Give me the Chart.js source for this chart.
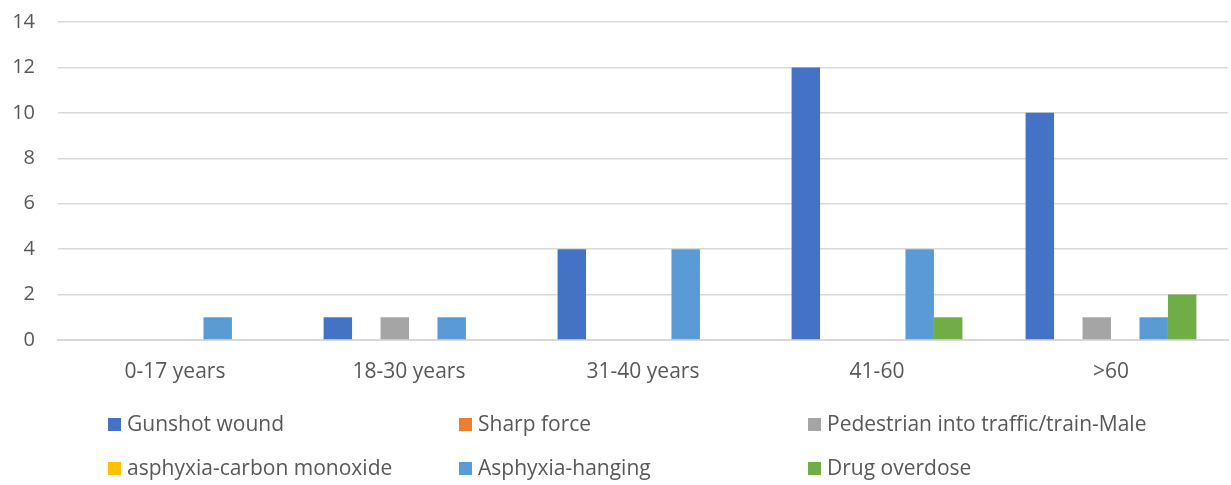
<!DOCTYPE html>
<html>
<head>
<meta charset="utf-8">
<script src="https://cdn.jsdelivr.net/npm/chart.js@4.4.0/dist/chart.umd.min.js"></script>
<style>
  html, body { margin: 0; padding: 0; background: #fff; }
  #wrap { position: relative; width: 1231px; height: 485px; font-family: "Open Sans", sans-serif; }
  #legend .item { position: absolute; font-size: 21px; color: #595959; line-height: 24px; white-space: nowrap; }
  #legend .box { display: inline-block; width: 13px; height: 13px; margin-right: 6px; vertical-align: 0px; }
</style>
</head>
<body>
<div id="wrap">
  <canvas id="chart" width="1231" height="485"></canvas>
  <div id="legend"></div>
</div>
<script>
// categories and series
const categories = ["0-17 years", "18-30 years", "31-40 years", "41-60", ">60"];
const gunshot = [0, 1, 4, 12, 10];
const sharpForce = [0, 0, 0, 0, 0];
const pedestrian = [0, 1, 0, 0, 1];
const carbonMonoxide = [0, 0, 0, 0, 0];
const hanging = [1, 1, 4, 4, 1];
const overdose = [0, 0, 0, 1, 2];
const yTicks = [0, 2, 4, 6, 8, 10, 12, 14];

const series = [
  { label: "Gunshot wound", data: gunshot, color: "#4472c4" },
  { label: "Sharp force", data: sharpForce, color: "#ed7d31" },
  { label: "Pedestrian into traffic/train-Male", data: pedestrian, color: "#a5a5a5" },
  { label: "asphyxia-carbon monoxide", data: carbonMonoxide, color: "#ffc000" },
  { label: "Asphyxia-hanging", data: hanging, color: "#5b9bd5" },
  { label: "Drug overdose", data: overdose, color: "#70ad47" }
];

new Chart(document.getElementById("chart"), {
  type: "bar",
  data: {
    labels: categories,
    datasets: series.map(s => ({
      label: s.label,
      data: s.data,
      backgroundColor: s.color,
      borderWidth: 0,
      categoryPercentage: 0.73,
      barPercentage: 1
    }))
  },
  options: {
    responsive: false,
    animation: false,
    layout: { padding: { top: 22, right: 3, left: 0, bottom: 0 } },
    plugins: { legend: { display: false }, tooltip: { enabled: false } },
    scales: {
      x: {
        grid: { display: false, drawTicks: false },
        border: { color: "#d9d9d9", width: 2 },
        ticks: { color: "#595959", font: { family: "'Open Sans', sans-serif", size: 21 }, padding: 19 },
        afterFit: scale => { scale.height = 145; }
      },
      y: {
        min: 0,
        max: 14,
        afterBuildTicks: scale => { scale.ticks = yTicks.map(v => ({ value: v })); },
        grid: { color: "#d9d9d9", lineWidth: 1.5, drawTicks: false },
        border: { display: false },
        ticks: { color: "#595959", font: { family: "'Open Sans', sans-serif", size: 20 }, padding: 23 },
        afterFit: scale => {
          scale.width = 58;
          scale.paddingTop = 0;
          scale.paddingBottom = 0;
        }
      }
    }
  }
});

// legend in three columns
const legendPos = [[108, 411], [459, 411], [808, 411], [108, 455], [459, 455], [808, 455]];
const legend = document.getElementById("legend");
series.forEach((s, i) => {
  const item = document.createElement("div");
  item.className = "item";
  item.style.left = legendPos[i][0] + "px";
  item.style.top = legendPos[i][1] + "px";
  item.innerHTML = `<span class="box" style="background:${s.color}"></span>${s.label}`;
  legend.appendChild(item);
});
</script>
</body>
</html>
